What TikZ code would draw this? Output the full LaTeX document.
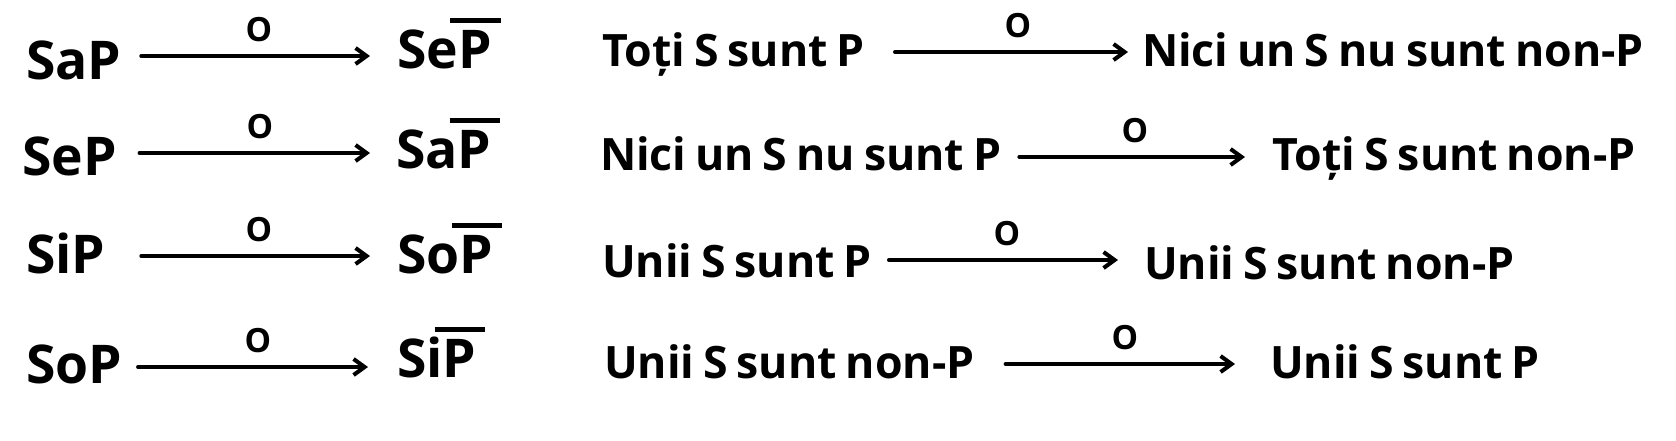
\documentclass[tikz,border=0pt]{standalone}
\usepackage{fontspec}
\setmainfont{Open Sans}
\usetikzlibrary{arrows.meta}
% la P con la raya de negación encima
\newcommand{\barP}{\makebox[0pt][l]{\hspace{-0.15em}\rule[0.85em]{0.95em}{0.08em}}P}

\begin{document}
\begin{tikzpicture}[x=0.1mm, y=-0.1mm, line width=1.15pt, line cap=round, line join=round,
    sim/.style={anchor=base west, inner sep=0pt, font=\bfseries\fontsize{15.2}{17}\selectfont},
    prop/.style={anchor=base west, inner sep=0pt, font={\bfseries\fontsize{12.7}{15}\selectfont\spaceskip=0.2em\relax}},
    obv/.style={anchor=south, inner xsep=0pt, inner ysep=1.2mm, font=\bfseries\fontsize{9.5}{11}\selectfont},
    conv/.style={-{Straight Barb[length=1.1mm, width=1.6mm]}}]
  \useasboundingbox (0,0) rectangle (1676,440);
  % las fórmulas, a la izquierda
  \node[sim] (sap) at (24,79) {SaP};
  \node[sim] (senp) at (395,68) {Se\barP};
  \node[obv] (o1) at (259,56) {O};
  \draw[conv, shorten <=1.8mm, shorten >=2.5mm] (sap.east |- o1.south) -- (senp.west |- o1.south);
  \node[sim] (sep) at (20,175) {SeP};
  \node[sim] (sanp) at (394,168) {Sa\barP};
  \node[obv] (o2) at (260,153) {O};
  \draw[conv, shorten <=2.1mm, shorten >=2.4mm] (sep.east |- o2.south) -- (sanp.west |- o2.south);
  \node[sim] (sip) at (24,273) {SiP};
  \node[sim] (sonp) at (395,273) {So\barP};
  \node[obv] (o3) at (259,256) {O};
  \draw[conv, shorten <=3.4mm, shorten >=2.5mm] (sip.east |- o3.south) -- (sonp.west |- o3.south);
  \node[sim] (sop) at (24,383) {SoP};
  \node[sim] (sinp) at (395,377) {Si\barP};
  \node[obv] (o4) at (258,367) {O};
  \draw[conv, shorten <=1.4mm, shorten >=2.7mm] (sop.east |- o4.south) -- (sinp.west |- o4.south);
  % las mismas, dichas con palabras
  \node[prop] (toti) at (600,66) {Toți S sunt P};
  \node[prop] (niciunnon) at (1140,66) {Nici un S nu sunt non-P};
  \node[obv] (o5) at (1018,52) {O};
  \draw[conv, shorten <=2.8mm, shorten >=1.2mm] (toti.east |- o5.south) -- (niciunnon.west |- o5.south);
  \node[prop] (niciun) at (598,170) {Nici un S nu sunt P};
  \node[prop] (totinon) at (1270,170) {Toți S sunt non-P};
  \node[obv] (o6) at (1135,157) {O};
  \draw[conv, shorten <=1.6mm, shorten >=2.5mm] (niciun.east |- o6.south) -- (totinon.west |- o6.south);
  \node[prop] (unii) at (600,277) {Unii S sunt P};
  \node[prop] (uniinon) at (1142,279) {Unii S sunt non-P};
  \node[obv] (o7) at (1007,260) {O};
  \draw[conv, shorten <=1.5mm, shorten >=2.4mm] (unii.east |- o7.south) -- (uniinon.west |- o7.south);
  \node[prop] (uniinonb) at (602,378) {Unii S sunt non-P};
  \node[prop] (uniib) at (1268,378) {Unii S sunt P};
  \node[obv] (o8) at (1125,364) {O};
  \draw[conv, shorten <=2.9mm, shorten >=3.3mm] (uniinonb.east |- o8.south) -- (uniib.west |- o8.south);
\end{tikzpicture}
\end{document}
